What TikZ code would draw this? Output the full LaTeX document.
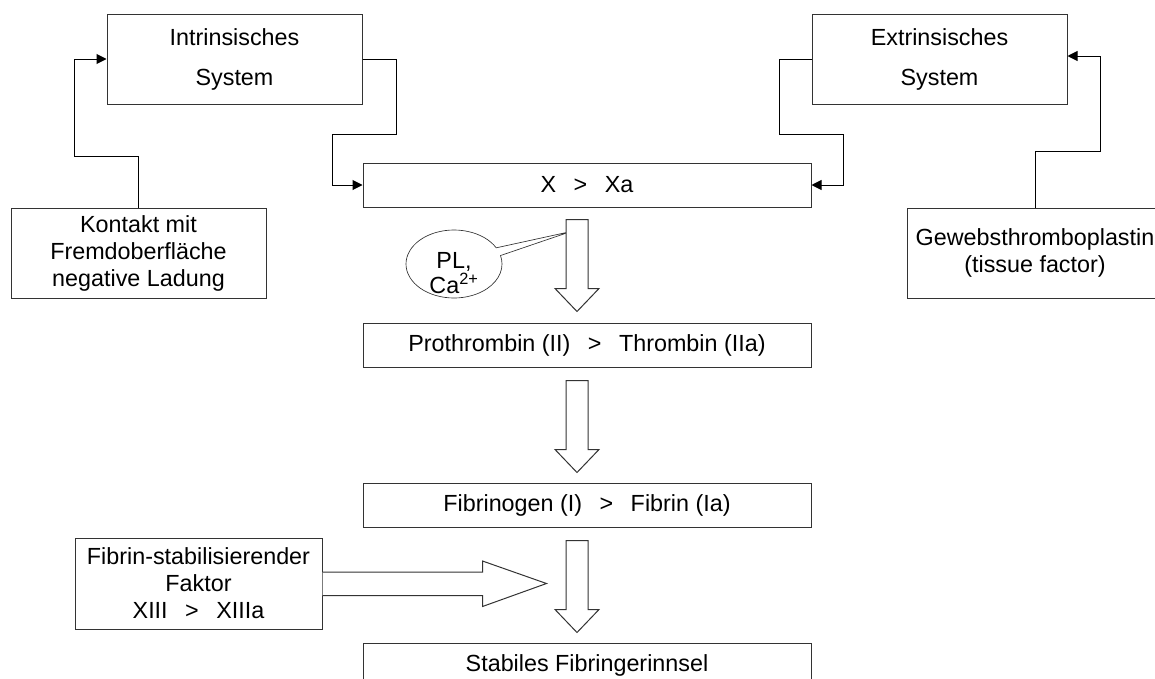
\documentclass[tikz,border=0pt]{standalone}
\usepackage{fontspec}
\setmainfont{Liberation Sans}
\usepackage{tikz}
\usetikzlibrary{positioning, calc}
\usetikzlibrary{arrows.meta, shapes.callouts}

\newcommand{\becomes}{\hspace{0.75em}>\hspace{0.75em}}

\begin{document}
\begin{tikzpicture}[x=0.75pt, y=-0.75pt, node distance=86.25pt, font=\fontsize{17.5}{20.25}\selectfont, align=center, >={Triangle[length=7.5pt,width=7.5pt]}, line width=0.75pt]
        % Define colors
        \definecolor{linegray}{rgb}{0.2, 0.2, 0.2}

        % Styles
        \tikzset{
            box/.style={draw=linegray, rectangle, inner sep=0pt, minimum width=191.25pt, minimum height=67.5pt},
            stepbar/.style={draw=linegray, rectangle, inner sep=0pt, minimum width=336pt, minimum height=33pt},
            conn/.style={->, draw=black, line width=0.75pt},
            blockarrow/.style={draw=linegray, line width=0.75pt, fill=white},
            downarrow/.pic={\draw[blockarrow] (-11,0) -- (11,0) -- (11,69) -- (22,69) -- (0,92) -- (-22,69) -- (-11,69) -- cycle;}
        }

        \useasboundingbox (0,0) rectangle (1155,678);

        % Nodes
        \node[box] (intr) at (234.5,59) {Intrinsisches\\[9.75pt]System};
        \node[box] (extr) at (939.5,59) {Extrinsisches\\[9.75pt]System};
        \node[box] (kontakt) at (138.5,253) {Kontakt mit\\Fremdoberfläche\\negative Ladung};
        \node[box] (gewebs) at (1035,253) {Gewebsthromboplastin\\(tissue factor)};

        \node[stepbar] (factorx) at (587,185) {X\becomes Xa};
        \node[stepbar, below=of factorx] (prothr) {Prothrombin (II)\becomes Thrombin (IIa)};
        \node[stepbar, below=of prothr] (fibrinogen) {Fibrinogen (I)\becomes Fibrin (Ia)};
        \node[stepbar, below=of fibrinogen] (stabil) {Stabiles Fibringerinnsel};

        \node[box, minimum width=185.25pt, minimum height=68.25pt] (fsf) at (198.5,583.5) {Fibrin-stabilisierender\\Faktor\\XIII\becomes XIIIa};

        \coordinate (pltip) at ($(factorx.south)+(-16,24)$);
        \node[ellipse callout, draw=linegray, line width=0.5pt, inner sep=0pt, minimum width=72pt, minimum height=51pt, callout absolute pointer={(pltip)}, callout pointer arc=14,
              label={[yshift=-6.5pt]center:{PL,\\[-1.5pt]Ca\textsuperscript{2+}}}] (plca) at (454,264) {};

        % Edges
        \draw[conn] (kontakt.north) -- ++(0,-51) -- ++(-64,0) |- (intr.west);
        \draw[conn] (intr.east) -- ++(34,0) -- ++(0,75) -- ++(-64,0) |- (factorx.west);
        \draw[conn] (extr.west) -- ++(-32,0) -- ++(0,75) -- ++(64,0) |- (factorx.east);
        \draw[conn] (gewebs.north) -- ++(0,-56) -- ++(65,0) |- ($(extr.east)+(0,-3)$);

        % Block arrows
        \pic at ($(factorx.south)+(-10,12)$) {downarrow};
        \pic at ($(prothr.south)+(-10,13)$) {downarrow};
        \pic at ($(fibrinogen.south)+(-10,13)$) {downarrow};
        \draw[blockarrow] ($(fsf.east)+(0,-11.5)$) -- ++(160,0) -- ++(0,-11) -- ++(64,22.5) -- ++(-64,23) -- ++(0,-11) -- ++(-160,0);
\end{tikzpicture}
\end{document}
